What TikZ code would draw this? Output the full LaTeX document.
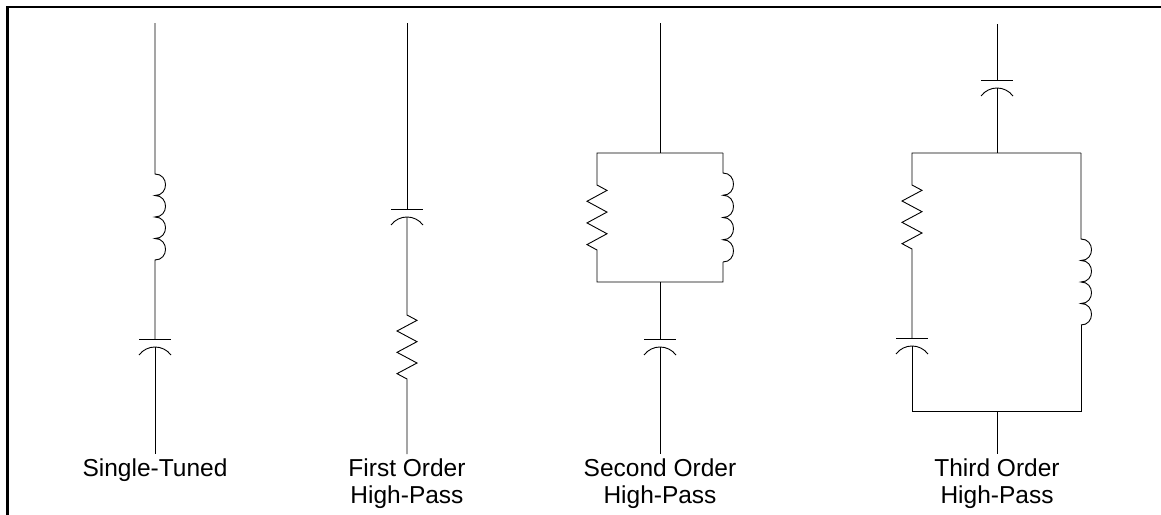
\documentclass[tikz,border=0pt]{standalone}
\usepackage{fontspec}
\setmainfont{Liberation Sans}
\usetikzlibrary{calc}
\tikzset{
  wire/.style={draw=black,line width=0.9pt},
  coil/.style={to path={let \p1=(\tikztostart),\p2=(\tikztotarget),\n1={(\y2-\y1)/4} in
     .. controls +(14pt,0pt) and +(14pt,0pt) .. ++(0pt,{\n1*1pt})
     .. controls +(14pt,0pt) and +(14pt,0pt) .. ++(0pt,{\n1*1pt})
     .. controls +(14pt,0pt) and +(14pt,0pt) .. ++(0pt,{\n1*1pt})
     .. controls +(14pt,0pt) and +(14pt,0pt) .. (\tikztotarget)}},
  zig/.style={to path={let \p1=(\tikztostart),\p2=(\tikztotarget),\n1={(\y2-\y1)/12} in
     -- ++(10pt,{\n1*1pt}) -- ++(-20pt,{2*\n1*1pt}) -- ++(20pt,{2*\n1*1pt})
     -- ++(-20pt,{2*\n1*1pt}) -- ++(20pt,{2*\n1*1pt}) -- ++(-20pt,{2*\n1*1pt})
     -- (\tikztotarget)}},
  pics/cap/.style={code={
     \draw[wire] (-16,0) -- (16,0);
     \draw[wire] (-16,16) .. controls (-8,5.33) and (8,5.33) .. (16,16);
  }},
  lbl/.style={anchor=base,align=center,inner sep=0pt,
     font=\fontsize{24.5}{27}\selectfont},
  frame/.style={draw=black,line width=2.5pt,line join=miter}
}
\begin{document}
\begin{tikzpicture}[x=1pt,y=-1pt]
\useasboundingbox (0,0) rectangle (1161,514);
% frame
\coordinate (fb) at (7.7,520);
\coordinate (fc) at (7.7,7);
\coordinate (fr) at (1170,7);
\draw[frame] (fb) -- (fc) -- (fr);

% ---------- Single-Tuned ----------
\coordinate (a1) at (155,23);
\coordinate (l1a) at (155,174);
\coordinate (l1b) at (155,260);
\coordinate (c1t) at (155,339);
\coordinate (c1b) at (155,347);
\coordinate (b1) at (155,454);
\draw[wire] (a1) -- (l1a) to[coil] (l1b) -- (c1t);
\pic at (c1t) {cap};
\draw[wire] (c1b) -- (b1);
\node[lbl] (t1) at (155,476) {Single-Tuned};

% ---------- First Order ----------
\coordinate (a2) at (407,23);
\coordinate (c2t) at (407,209);
\coordinate (c2b) at (407,217);
\coordinate (r2a) at (407,315);
\coordinate (r2b) at (407,379);
\coordinate (b2) at (407,454);
\draw[wire] (a2) -- (c2t);
\pic at (c2t) {cap};
\draw[wire] (c2b) -- (r2a) to[zig] (r2b) -- (b2);
\node[lbl] (t2) at (407,476) {First Order};
\node[lbl] (t2b) at (407,503) {High-Pass};

% ---------- Second Order ----------
\coordinate (a3) at (660,23);
\coordinate (q3t) at (660,153);
\coordinate (q3tl) at (597,153);
\coordinate (q3tr) at (723,153);
\coordinate (q3bl) at (597,282);
\coordinate (q3br) at (723,282);
\coordinate (q3b) at (660,282);
\coordinate (r3a) at (597,185);
\coordinate (r3b) at (597,250);
\coordinate (l3a) at (723,173);
\coordinate (l3b) at (723,262);
\coordinate (c3t) at (660,339);
\coordinate (c3b) at (660,347);
\coordinate (b3) at (660,454);
\draw[wire] (a3) -- (q3t);
\draw[wire] (q3tr) -- (q3tl) -- (r3a) to[zig] (r3b) -- (q3bl) -- (q3br) -- (l3b);
\draw[wire] (q3tr) -- (l3a) to[coil] (l3b);
\draw[wire] (q3b) -- (c3t);
\pic at (c3t) {cap};
\draw[wire] (c3b) -- (b3);
\node[lbl] (t3) at (660,476) {Second Order};
\node[lbl] (t3b) at (660,503) {High-Pass};

% ---------- Third Order ----------
\coordinate (a4) at (997,24);
\coordinate (c4t) at (997,80);
\coordinate (c4b) at (997,88);
\coordinate (q4t) at (997,153);
\coordinate (q4tl) at (912,153);
\coordinate (q4tr) at (1081,153);
\coordinate (q4bl) at (912,411);
\coordinate (q4br) at (1081,411);
\coordinate (q4b) at (997,411);
\coordinate (r4a) at (912,185);
\coordinate (r4b) at (912,249);
\coordinate (k4t) at (912,338);
\coordinate (k4b) at (912,346);
\coordinate (l4a) at (1081,239);
\coordinate (l4b) at (1081,325);
\coordinate (b4) at (997,454);
\draw[wire] (a4) -- (c4t);
\pic at (c4t) {cap};
\draw[wire] (c4b) -- (q4t);
\draw[wire] (q4tr) -- (q4tl) -- (r4a) to[zig] (r4b) -- (k4t);
\pic at (k4t) {cap};
\draw[wire] (k4b) -- (q4bl) -- (q4br) -- (l4b);
\draw[wire] (q4tr) -- (l4a) to[coil] (l4b);
\draw[wire] (q4b) -- (b4);
\node[lbl] (t4) at (997,476) {Third Order};
\node[lbl] (t4b) at (997,503) {High-Pass};
\end{tikzpicture}
\end{document}
